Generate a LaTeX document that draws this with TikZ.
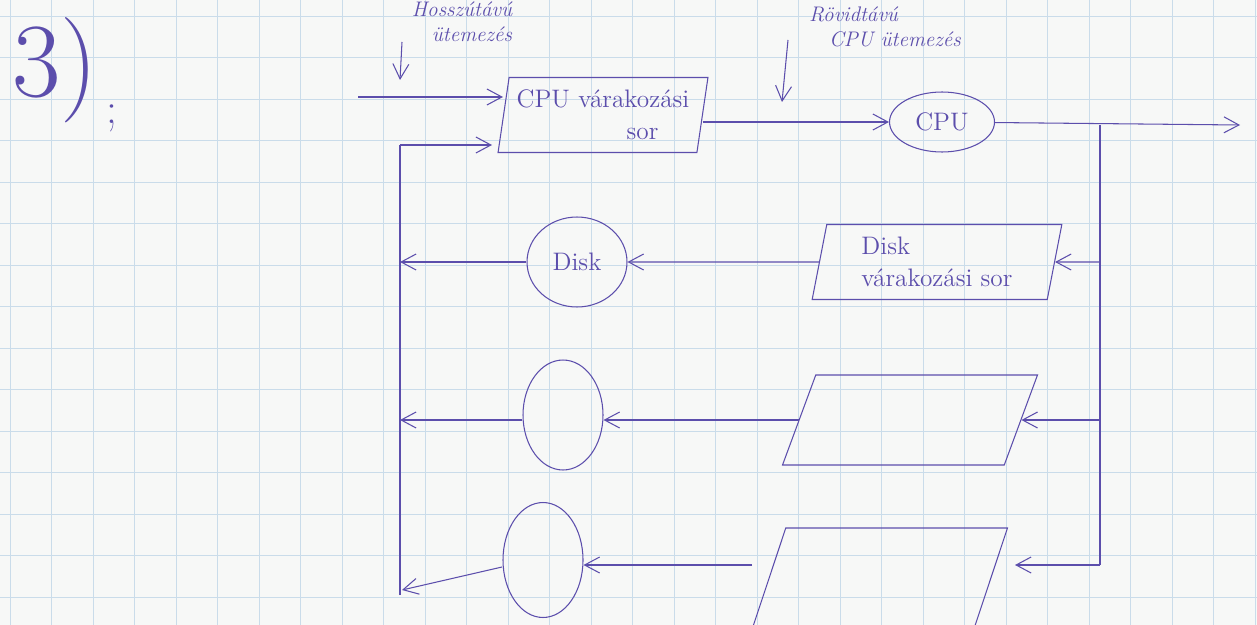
\documentclass[tikz,border=0pt]{standalone}
\usepackage{xcolor}
\usepackage{tikz}
\usetikzlibrary{shapes.geometric, arrows.meta, positioning, calc}

\definecolor{ink}{RGB}{92,78,172}
\definecolor{paper}{RGB}{247,248,247}
\definecolor{gridline}{RGB}{202,220,234}

\begin{document}
\begin{tikzpicture}[
  x=0.02cm, y=-0.02cm,
  queue/.style={draw=ink, semithick, trapezium, trapezium left angle=80,
                trapezium right angle=100, trapezium stretches=true,
                align=left, text=ink, font=\Large},
  device/.style={draw=ink, semithick, ellipse, text=ink, font=\Large},
  note/.style={text=ink, align=left, font=\large\itshape},
  arr/.style={-{Straight Barb[length=3mm, width=3.2mm]}, draw=ink, semithick},
  wire/.style={draw=ink, semithick}
]
% paper
\fill[paper] (0,0) rectangle (1257,625);
\clip (0,0) rectangle (1257,625);
\foreach \gx in {10,51.5,...,1257} \draw[gridline] (\gx,0) -- (\gx,625);
\foreach \gy in {16,57.5,...,625} \draw[gridline] (0,\gy) -- (1257,\gy);

\node[text=ink, font=\fontsize{60}{60}\selectfont] (num) at (55,70) {3)};
\node[text=ink, font=\Huge] (semi) at (112,118) {;};

% queues and devices
\node[queue, minimum width=4.2cm, minimum height=1.5cm] (cpuq) at (603,115) {CPU várakozási\\\hspace*{2.2cm}sor};
\node[device, minimum width=2.1cm, minimum height=1.2cm] (cpu) at (942,122) {CPU};
\node[queue, minimum width=5cm, minimum height=1.5cm] (diskq) at (937,262) {Disk\\várakozási sor};
\node[device, minimum width=2cm, minimum height=1.8cm] (disk) at (577,262) {Disk};
\node[queue, minimum width=5.1cm, minimum height=1.8cm] (q3) at (910,420) {};
\node[device, minimum width=1.6cm, minimum height=2.2cm] (dev3) at (563,415) {};
\node[queue, minimum width=5.1cm, minimum height=2cm] (q4) at (880,578) {};
\node[device, minimum width=1.6cm, minimum height=2.3cm] (dev4) at (543,560) {};

% scheduler notes
\node[note] (longterm) at (462,22) {Hosszútávú\\\hspace*{4mm}ütemezés};
\node[note] (shortterm) at (885,27) {Rövidtávú\\\hspace*{4mm}CPU ütemezés};
\coordinate (lt1) at (402,42);
\coordinate (lt2) at (400,80);
\coordinate (st1) at (788,40);
\coordinate (st2) at (782,102);
\draw[arr] (lt1) -- (lt2);
\draw[arr] (st1) -- (st2);

% main flow
\coordinate (in) at (358,97);
\coordinate (out) at (1240,125);
\coordinate (split) at (1100,125);
\coordinate (back) at (400,145);
\coordinate (backend) at (400,595);
\coordinate (cpuqin) at (492,145);
\coordinate (q4in) at (752,565);
\coordinate (dev4out) at (502,567);
\coordinate (dev4back) at (402,590);
\draw[arr] (in) -- (in -| cpuq.west);
\draw[arr] (cpuq.east |- cpu) -- (cpu);
\draw[arr] (cpu) -- (out);

% fan out to the device queues
\draw[wire] (split) -- (split |- q4in);
\draw[arr] (split |- diskq) -- (diskq);
\draw[arr] (split |- q3) -- (q3);
\draw[arr] (split |- q4in) -- ++(-85,0);
\draw[arr] (diskq) -- (disk);
\draw[arr] (q3.west) -- (dev3.east |- q3.west);
\draw[arr] (q4in) -- (dev4.east |- q4in);

% back to the cpu queue
\draw[wire] (backend) -- (back);
\draw[arr] (back) -- (cpuqin);
\draw[arr] (disk) -- (back |- disk);
\draw[arr] (dev3.west |- q3.west) -- (back |- q3.west);
\draw[arr] (dev4out) -- (dev4back);
\end{tikzpicture}
\end{document}
